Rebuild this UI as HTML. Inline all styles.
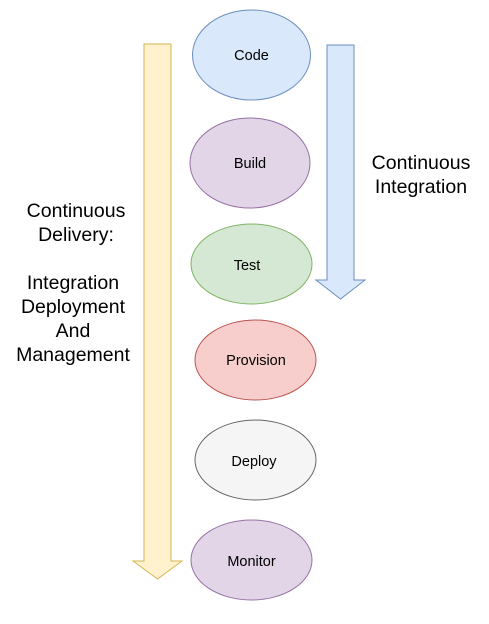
<!DOCTYPE html>
<html><head><meta charset="utf-8"><style>body{margin:0;background:#fff}</style></head><body>
<svg width="489" height="619" xmlns="http://www.w3.org/2000/svg" font-family="Liberation Sans, Arial, sans-serif">
<polygon points="144,44 171,44 171,561 182,561 157.5,579 133,561 144,561" fill="#fff2cc" stroke="#d6b656" stroke-width="1"/>
<polygon points="327,45 354,45 354,280 365,280 340.5,299 316,280 327,280" fill="#dae8fc" stroke="#6c8ebf" stroke-width="1"/>
<g font-size="14.5" text-anchor="middle">
<ellipse cx="251.5" cy="55" rx="59" ry="45" fill="#dae8fc" stroke="#6c8ebf"/><text x="251.5" y="60">Code</text>
<ellipse cx="250" cy="163" rx="60" ry="45" fill="#e1d5e7" stroke="#9673a6"/><text x="250" y="168">Build</text>
<ellipse cx="251.5" cy="264" rx="60.5" ry="40" fill="#d5e8d4" stroke="#82b366"/><text x="247" y="270">Test</text>
<ellipse cx="255.5" cy="360" rx="60.5" ry="40" fill="#f8cecc" stroke="#b85450"/><text x="256" y="365">Provision</text>
<ellipse cx="255.5" cy="460" rx="60.5" ry="40" fill="#f5f5f5" stroke="#666666"/><text x="254" y="466">Deploy</text>
<ellipse cx="251.5" cy="560" rx="60.5" ry="40" fill="#e1d5e7" stroke="#9673a6"/><text x="251.5" y="566">Monitor</text>
</g>
<g font-size="19.5" text-anchor="middle" fill="#000">
<text x="421" y="169">Continuous</text>
<text x="421" y="193">Integration</text>
<text x="76" y="217">Continuous</text>
<text x="76" y="241">Delivery:</text>
<text x="73" y="289">Integration</text>
<text x="73" y="313">Deployment</text>
<text x="73" y="337">And</text>
<text x="73" y="361">Management</text>
</g>
</svg>
</body></html>
